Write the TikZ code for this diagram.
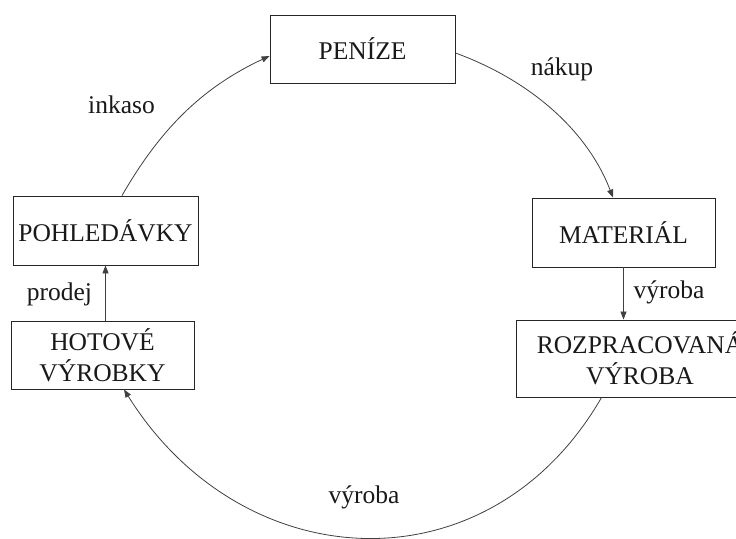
\documentclass[tikz,border=0pt]{standalone}
\usepackage{fontspec}
\setmainfont{Liberation Serif}
\usetikzlibrary{arrows.meta,calc}
\begin{document}
\begin{tikzpicture}[x=1pt,y=-1pt,
  every node/.style={font=\fontsize{25.5}{30.6}\selectfont, text=black!90},
  box/.style={draw=black!85, line width=0.9pt, inner sep=2pt, align=center},
  flow/.style={draw=black!75, line width=0.8pt, -{Triangle[length=8pt,width=6pt]}},
  lbl/.style={anchor=base}]
\useasboundingbox (0,0) rectangle (736,538);
\clip (0,0) rectangle (736,538);
\fill[white] (0,0) rectangle (736,538);
% boxes
\node[box, minimum width=185pt, minimum height=68pt] (pen) at (362.5,49) {PENÍZE};
\node[box, minimum width=183pt, minimum height=69pt] (mat) at (623.5,232.5) {MATERIÁL};
\node[box, minimum width=248pt, minimum height=77pt] (roz) at (640,358.5) {ROZPRACOVANÁ\\VÝROBA};
\node[box, minimum width=185pt, minimum height=69pt] (poh) at (105.5,230.5) {POHLEDÁVKY};
\node[box, minimum width=183pt, minimum height=68pt] (hot) at (102.5,355) {HOTOVÉ\\VÝROBKY};
% connectors
\coordinate (inkS) at ($(poh.north)+(16.5,0)$);
\coordinate (inkE) at ($(pen.west)+(0,7)$);
\coordinate (nakS) at ($(pen.east)+(0,4)$);
\coordinate (nakE) at ($(mat.north)+(-10.5,0)$);
\coordinate (vyrS) at ($(roz.south west)+(86,0)$);
\coordinate (vyrE) at ($(hot.south)+(21.5,0)$);
\draw[flow] (inkS) to[out=60, in=205, looseness=0.95] (inkE);
\draw[flow] (nakS) to[out=-20, in=111, looseness=0.9] (nakE);
\draw[flow] (mat.south) -- (mat.south |- roz.north);
\draw[flow] (vyrS) to[out=240, in=-58, looseness=1.2] (vyrE);
\draw[flow] (poh.south |- hot.north) -- (poh.south);
% labels
\node[lbl] (linkaso) at (121.5,113) {inkaso};
\node[lbl] (lnakup) at (562,75) {nákup};
\node[lbl] (lvyroba1) at (669,298) {výroba};
\node[lbl] (lprodej) at (59.5,300) {prodej};
\node[lbl] (lvyroba2) at (364,503) {výroba};
\end{tikzpicture}
\end{document}
